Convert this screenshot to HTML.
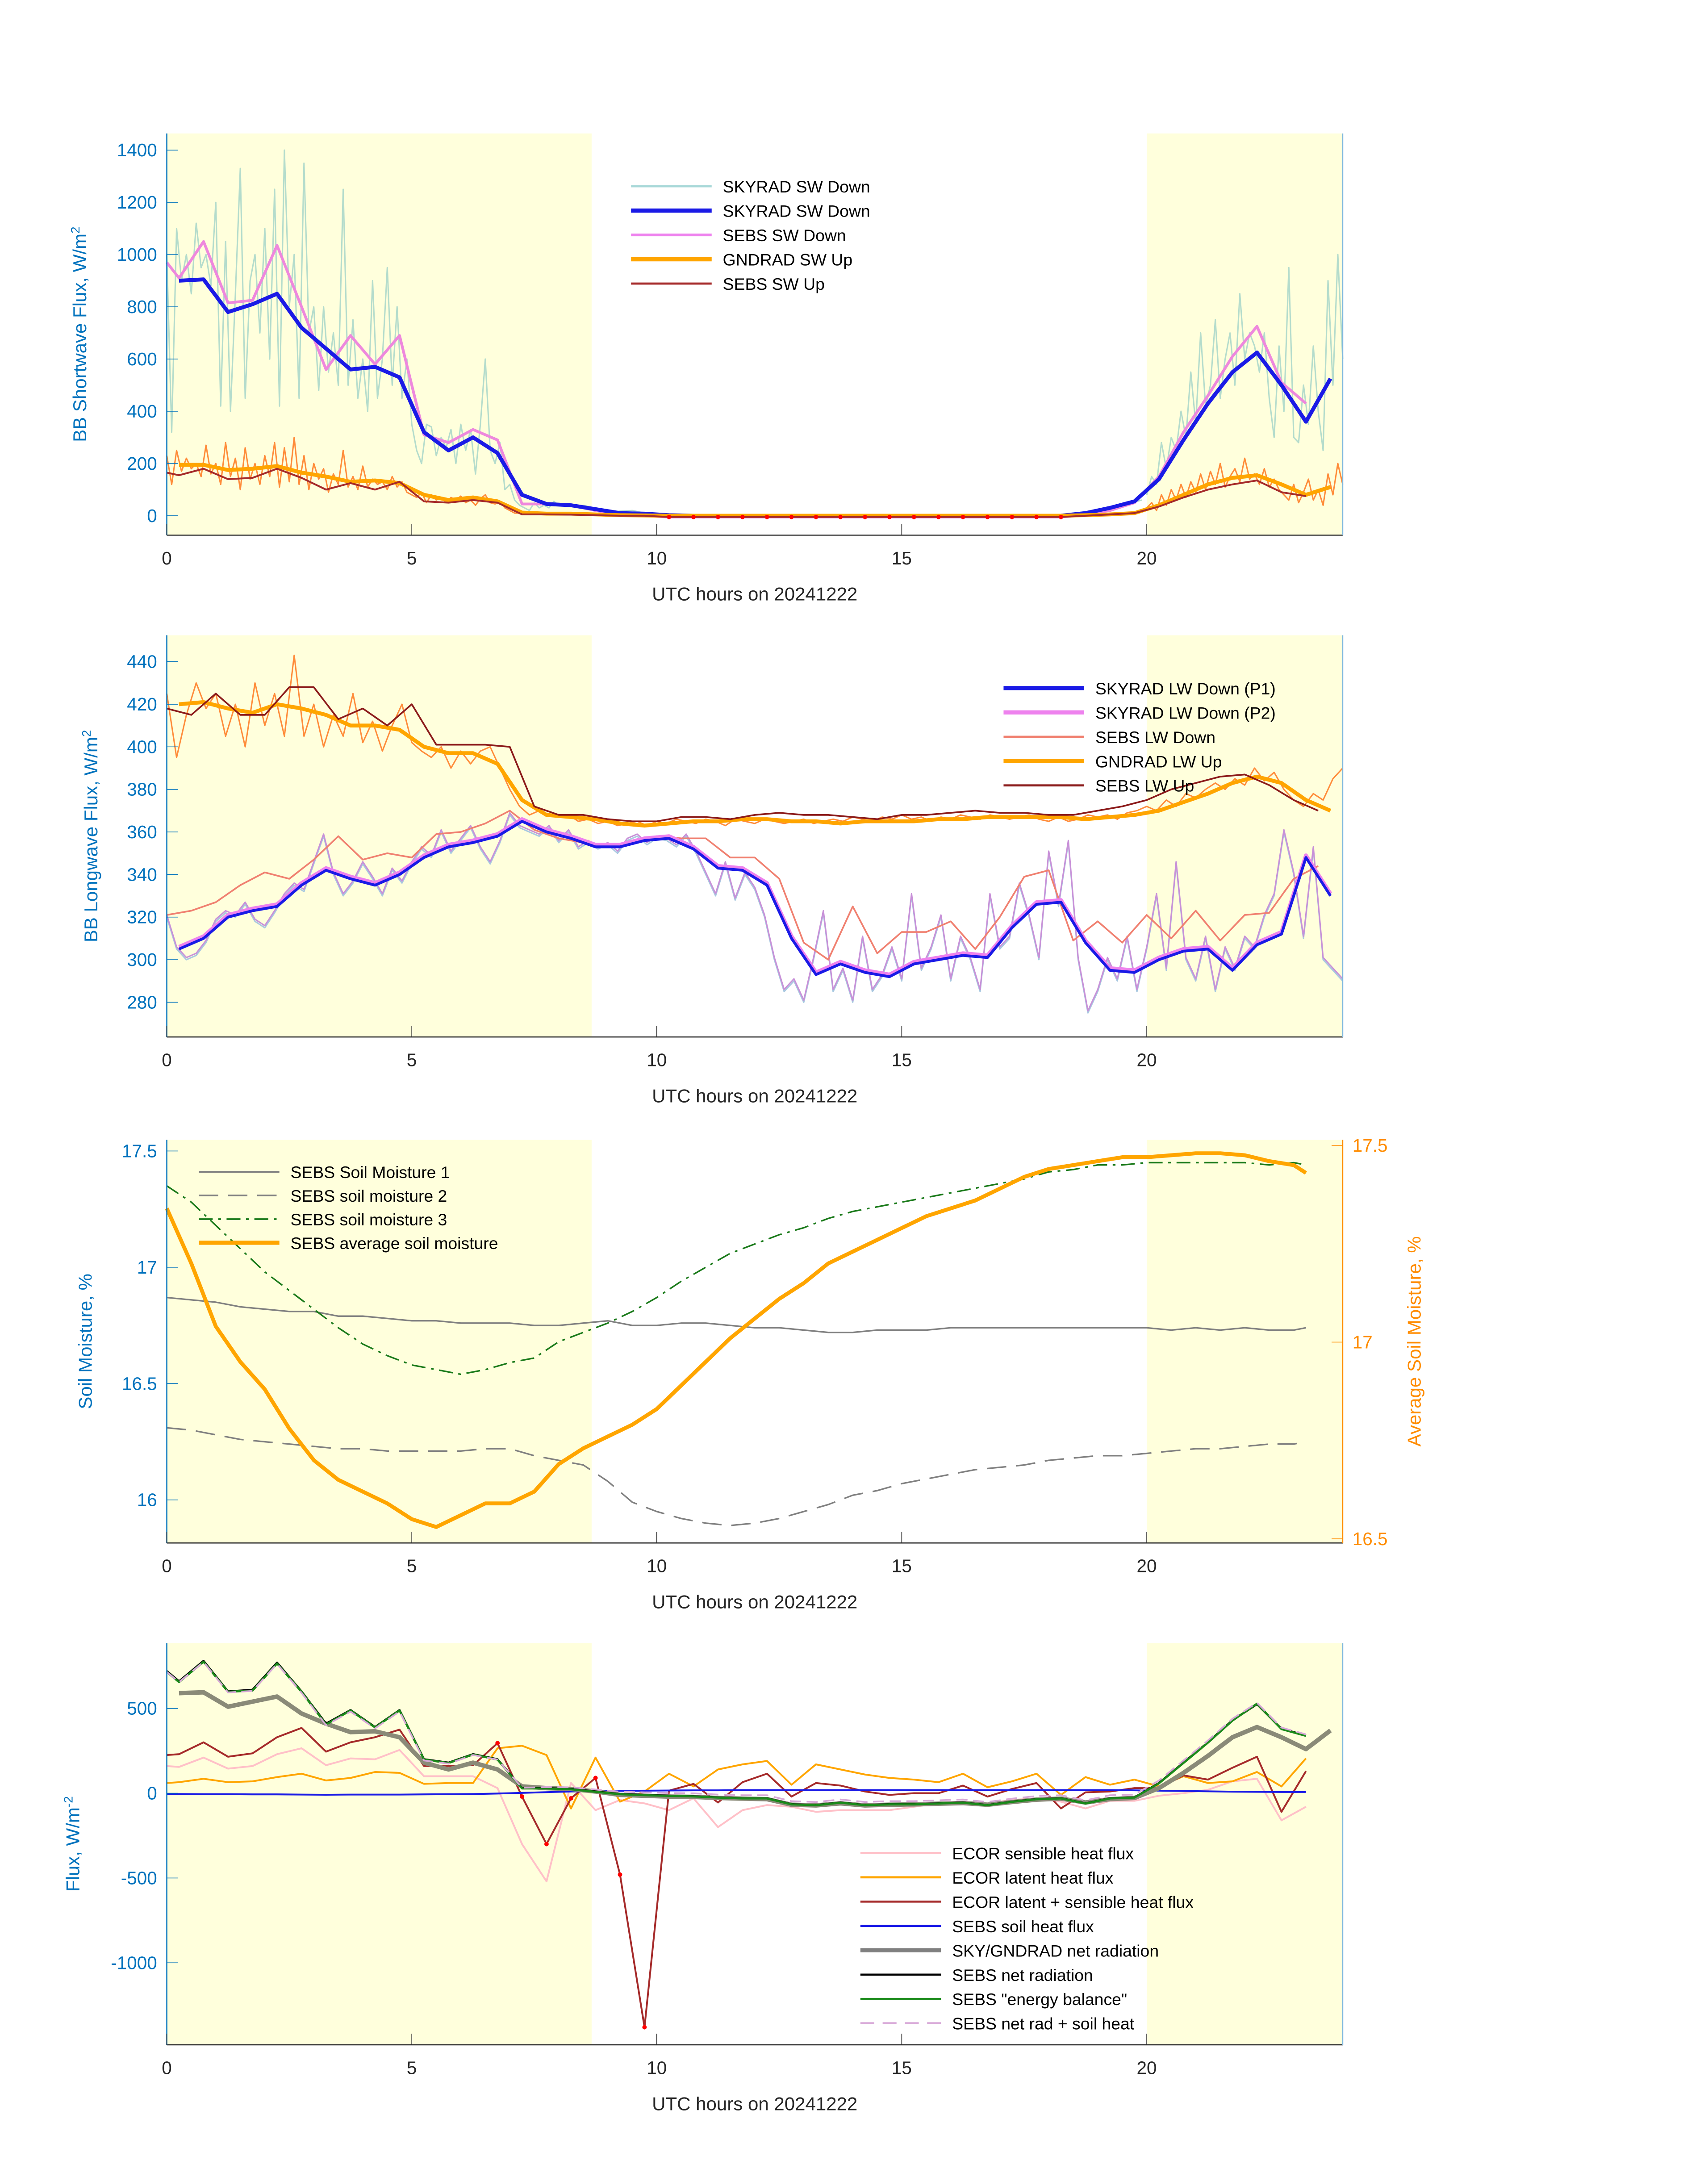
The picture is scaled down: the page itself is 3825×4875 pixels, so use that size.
<!DOCTYPE html>
<html><head><meta charset="utf-8"><style>
html,body{margin:0;padding:0;background:#fff}
svg{display:block;font-family:"Liberation Sans","DejaVu Sans",sans-serif}
</style></head><body>
<svg id="fig" width="3825" height="4875" viewBox="0 0 1228.8 1566.1" preserveAspectRatio="none" xmlns="http://www.w3.org/2000/svg"></svg>
<script>
// ---------- time grids ----------
function grid(a, step, n){ const r=[]; for(let i=0;i<n;i++) r.push(+(a+i*step).toFixed(3)); return r; }
const tQ = grid(0.25,0.5,48);
const tP = [0].concat(grid(0.25,0.5,47));
const tH = grid(0,0.5,48);
const t01a = grid(0,0.1,81);
const t01b = grid(20,0.1,41);
const t02 = grid(0,0.2,121);
// ---------- Panel 1 data ----------
const swRawA = [1000,320,1100,900,1000,850,1120,950,1000,880,1200,420,1050,400,850,1330,450,900,1000,700,1100,600,1250,420,1400,800,1000,450,1350,700,800,480,800,550,700,500,1250,500,750,450,600,400,900,450,600,950,500,800,450,600,350,250,200,350,340,230,300,260,330,200,350,250,330,160,350,600,250,200,280,100,120,60,40,30,20,50,30,40,30,55,40];
const swRawMidT = [8.5,9,9.5,10,12,14,16,18,19,19.5,19.9];
const swRawMid = [40,15,20,0,0,0,0,0,20,40,60];
const swRawB = [80,150,120,280,180,300,250,400,300,550,350,700,420,500,750,450,600,700,500,850,600,700,650,550,700,450,300,650,400,950,300,280,500,350,650,400,250,900,500,1000,600];
const upRawA = [230,120,250,170,220,180,200,150,270,160,200,120,280,150,220,100,260,140,200,120,230,150,280,110,260,130,300,120,230,100,200,140,180,90,160,120,250,110,150,100,190,110,140,120,130,100,150,110,130,90,80,70,90,50,80,60,70,50,70,60,75,50,60,40,65,80,50,45,55,30,20,10,10,5,5,5,8,5,5,5,5];
const upRawB = [30,50,20,80,40,100,60,120,70,130,90,160,100,170,120,200,110,150,180,130,220,140,160,120,180,110,140,100,80,60,120,50,90,140,60,100,40,160,80,200,120];
const skySW = [900,905,780,810,850,720,640,560,570,530,320,250,300,240,80,45,40,25,10,8,2,0,0,0,0,0,0,0,0,0,0,0,0,0,0,0,0,10,30,55,140,290,430,550,625,500,360,525];
const sebsSW = [970,910,1050,815,825,1035,800,560,690,580,690,310,280,330,290,45,45,40,20,5,0,-5,-5,-5,-5,-5,-5,-5,-5,-5,-5,-5,-5,-5,-5,-5,-5,-5,5,20,50,150,320,460,610,725,510,430];
const gndSW = [195,195,175,180,190,165,150,130,135,125,80,60,70,55,12,8,8,5,2,1,0,0,0,0,0,0,0,0,0,0,0,0,0,0,0,0,0,2,5,10,40,80,120,145,155,120,80,110];
const sebsUp = [165,155,180,140,145,180,145,100,125,100,130,55,50,60,50,5,5,4,2,0,0,-5,-5,-5,-5,-5,-5,-5,-5,-5,-5,-5,-5,-5,-5,-5,-5,-5,0,5,10,35,70,100,120,135,90,75];
// ---------- Panel 2 data ----------
const lwRaw = [320,305,300,302,308,318,322,320,326,318,315,322,330,335,332,345,358,340,330,336,345,338,330,342,336,345,352,348,360,350,356,362,352,345,355,368,362,360,358,362,355,360,352,355,352,354,350,356,358,354,357,356,353,358,350,340,330,345,328,340,333,320,300,285,290,280,300,322,285,295,280,310,285,292,305,290,330,295,305,320,290,310,300,285,330,305,310,335,320,300,350,325,355,300,275,285,300,290,310,285,305,330,295,345,300,290,310,285,305,295,310,305,320,330,360,340,310,352,300,295,290];
const upLwRaw = [425,395,415,430,418,425,405,420,400,430,410,425,405,443,405,420,400,415,405,425,402,412,398,410,420,402,398,395,400,390,398,392,398,400,390,380,372,368,370,368,367,368,365,366,364,365,363,364,365,363,365,364,366,365,364,366,365,363,366,365,364,366,365,364,365,366,364,365,366,365,367,366,365,367,366,368,366,367,365,367,366,368,367,366,368,367,366,367,368,366,365,367,365,366,368,367,368,366,369,370,372,370,375,372,378,376,380,383,380,385,382,390,384,388,380,375,372,378,375,385,390];
const skyLW1 = [305,310,320,323,325,335,342,338,335,340,348,353,355,358,365,360,357,353,353,356,357,352,343,342,335,310,293,298,294,292,298,300,302,301,315,326,327,308,295,294,300,304,305,295,307,312,348,330];
const skyLW2 = [306,311,321,324,326,336,343,339,336,341,349,354,356,359,366,361,358,354,354,357,358,353,344,343,336,311,294,299,295,293,299,301,303,302,316,327,328,309,296,295,301,305,306,296,308,313,349,331];
const sebsLWd = [321,323,327,335,341,338,347,358,347,350,348,359,360,364,370,361,357,355,353,355,358,357,357,348,348,338,308,300,325,303,313,313,318,305,320,339,342,309,318,308,321,310,323,309,321,322,338,344];
const gndLW = [420,421,418,416,420,418,415,410,410,408,400,397,397,392,375,368,367,366,364,363,364,365,365,366,366,365,365,364,365,365,365,366,366,367,367,367,367,366,367,368,370,374,378,383,386,383,375,370];
const sebsLWu = [418,415,425,415,415,428,428,413,418,410,420,401,401,401,400,372,368,368,366,365,365,367,367,366,368,369,368,368,367,366,368,368,369,370,369,369,368,368,370,372,375,380,383,386,387,382,375,370];
// ---------- Panel 3 data ----------
const sm1 = [16.87,16.86,16.85,16.83,16.82,16.81,16.81,16.79,16.79,16.78,16.77,16.77,16.76,16.76,16.76,16.75,16.75,16.76,16.77,16.75,16.75,16.76,16.76,16.75,16.74,16.74,16.73,16.72,16.72,16.73,16.73,16.73,16.74,16.74,16.74,16.74,16.74,16.74,16.74,16.74,16.74,16.73,16.74,16.73,16.74,16.73,16.73,16.74];
const sm2 = [16.31,16.30,16.28,16.26,16.25,16.24,16.23,16.22,16.22,16.21,16.21,16.21,16.21,16.22,16.22,16.19,16.17,16.15,16.08,15.99,15.95,15.92,15.90,15.89,15.90,15.92,15.95,15.98,16.02,16.04,16.07,16.09,16.11,16.13,16.14,16.15,16.17,16.18,16.19,16.19,16.20,16.21,16.22,16.22,16.23,16.24,16.24,16.25];
const sm3 = [17.35,17.28,17.18,17.08,16.98,16.90,16.82,16.74,16.67,16.62,16.58,16.56,16.54,16.56,16.59,16.61,16.68,16.72,16.76,16.81,16.87,16.94,17.00,17.06,17.10,17.14,17.17,17.21,17.24,17.26,17.28,17.30,17.32,17.34,17.36,17.38,17.41,17.42,17.44,17.44,17.45,17.45,17.45,17.45,17.45,17.44,17.45,17.44];
const smAvg = [17.34,17.2,17.04,16.95,16.88,16.78,16.7,16.65,16.62,16.59,16.55,16.53,16.56,16.59,16.59,16.62,16.69,16.73,16.76,16.79,16.83,16.89,16.95,17.01,17.06,17.11,17.15,17.2,17.23,17.26,17.29,17.32,17.34,17.36,17.39,17.42,17.44,17.45,17.46,17.47,17.47,17.475,17.48,17.48,17.475,17.46,17.45,17.43];
// ---------- Panel 4 data ----------
const ecorH = [160,155,210,145,160,230,265,165,205,200,255,100,100,100,30,-300,-520,60,-100,-40,-60,-100,-30,-200,-100,-70,-80,-110,-100,-100,-100,-80,-60,-50,-60,-40,-30,-50,-90,-45,-45,-15,0,20,70,85,-160,-80];
const ecorLE = [60,65,85,65,70,95,115,75,90,125,120,55,60,60,265,280,225,-90,210,-50,10,115,40,140,170,190,50,170,140,110,90,80,65,115,35,70,115,-10,95,50,80,40,100,60,70,125,40,205];
const ecorSum = [225,230,300,215,235,330,385,245,300,330,375,160,160,165,295,-20,-300,-30,90,-480,-1380,15,55,-55,65,115,-20,60,45,10,-10,0,0,45,-20,25,60,-90,5,10,30,30,105,80,150,215,-110,130];
const soilG = [-5,-5,-6,-6,-7,-7,-8,-9,-8,-8,-8,-7,-6,-5,-2,2,6,10,12,14,15,16,17,17,18,18,18,18,18,18,18,18,18,18,18,18,18,18,18,18,17,15,13,11,9,8,7,7];
const skyNet = [590,595,510,540,570,470,410,360,365,330,180,140,180,140,40,30,25,10,-10,-15,-20,-22,-28,-32,-35,-68,-72,-60,-72,-68,-66,-62,-58,-68,-52,-38,-32,-55,-35,-28,30,120,220,330,390,330,260,370];
const sebsNet = [720,660,780,600,610,770,600,410,490,390,490,200,180,230,200,30,30,25,10,-5,-10,-15,-18,-25,-30,-30,-65,-70,-55,-70,-65,-65,-60,-55,-70,-50,-35,-30,-60,-30,-25,60,180,300,430,525,380,340];
const sebsEB = [715,655,775,598,605,765,598,405,488,388,488,198,178,228,198,28,28,23,8,-6,-12,-16,-19,-26,-31,-31,-66,-71,-56,-71,-66,-66,-61,-56,-71,-51,-36,-31,-61,-31,-26,58,178,298,428,528,378,338];
const sebsNG = [715,655,774,594,603,763,592,401,481,382,482,193,174,225,198,32,36,35,22,9,5,1,-1,-8,-12,-12,-47,-52,-37,-52,-47,-47,-42,-37,-52,-32,-17,-12,-42,-12,-8,75,193,311,439,533,387,347];

// ---------- drawing helpers ----------
const svg = document.getElementById('fig');
const NS = 'http://www.w3.org/2000/svg';
function mk(tag, attrs, parent){ const e=document.createElementNS(NS,tag); for(const k in attrs) e.setAttribute(k,attrs[k]); (parent||svg).appendChild(e); return e; }
function txt(s, attrs, parent){ const e=mk('text',attrs,parent); e.textContent=s; return e; }
const X0=120, X1=966;
function xs(t){ return X0 + (t/24)*(X1-X0); }
function makeY(v0,y0,v1,y1){ return v => y0 + (v-v0)*(y1-y0)/(v1-v0); }
function line(g, T, V, y, stroke, w, dash, name){
  const d = T.map((t,i)=>(i?'L':'M')+xs(t).toFixed(2)+','+y(V[i]).toFixed(2)).join('');
  const p = mk('path',{d:d,fill:'none',stroke:stroke,'stroke-width':w,'stroke-linejoin':'round'},g);
  if(dash) p.setAttribute('stroke-dasharray',dash);
  
  
  return p;
}
function panel(name, top, bot){
  const g = mk('g',{});
  
  
  const s1 = mk('rect',{x:xs(0),y:top,width:xs(8.67)-xs(0),height:bot-top,fill:'#ffffdc'},g);
  
  
  const s2 = mk('rect',{x:xs(20),y:top,width:xs(24)-xs(20),height:bot-top,fill:'#ffffdc'},g);
  
  
  return g;
}
function axes(g, top, bot, yticks, yfun, ylabel, ylabelX, rightColor){
  const ax = mk('g',{},g);
  
  
  mk('line',{x1:X0,y1:bot,x2:X1,y2:bot,stroke:'#262626','stroke-width':0.8},ax);
  mk('line',{x1:X0,y1:top,x2:X0,y2:bot,stroke:'#0072BD','stroke-width':0.8},ax);
  mk('line',{x1:X1,y1:top,x2:X1,y2:bot,stroke:rightColor||'#7fb8de','stroke-width':0.8},ax);
  [0,5,10,15,20].forEach(t=>{
    mk('line',{x1:xs(t),y1:bot,x2:xs(t),y2:bot-8,stroke:'#262626','stroke-width':0.5},ax);
    const l = txt(String(t),{x:xs(t),y:bot+21,'font-size':13,fill:'#262626','text-anchor':'middle'},ax);
    
    
  });
  yticks.forEach(v=>{
    const y=yfun(v);
    mk('line',{x1:X0,y1:y,x2:X0+8,y2:y,stroke:'#0072BD','stroke-width':0.5},ax);
    const l = txt(String(v),{x:X0-7,y:y+4.5,'font-size':13,fill:'#0072BD','text-anchor':'end'},ax);
    
    
  });
  const xl = txt('UTC hours on 20241222',{x:543,y:bot+47,'font-size':13.5,fill:'#262626','text-anchor':'middle'},ax);
  
  
  const cy=(top+bot)/2;
  const yl = mk('text',{x:ylabelX,y:cy,'font-size':13.5,fill:'#0072BD','text-anchor':'middle',transform:'rotate(-90 '+ylabelX+' '+cy+')'},ax);
  yl.innerHTML = ylabel;
  
  
}
function legend(g, x, y0, dy, items){
  const lg = mk('g',{},g);
  
  
  items.forEach((it,i)=>{
    const y=y0+i*dy;
    const e = mk('g',{},lg);
    
    
    const l = mk('line',{x1:x,y1:y,x2:x+58,y2:y,stroke:it[1],'stroke-width':it[2]},e);
    if(it[3]) l.setAttribute('stroke-dasharray',it[3]);
    txt(it[0],{x:x+66,y:y+4.5,'font-size':12,fill:'#000'},e);
  });
}
function dots(g, T, V, y, from, to, name){
  T.forEach((t,i)=>{ if(t>=from && t<=to){
    const c = mk('circle',{cx:xs(t),cy:y(V[i]),r:1.6,fill:'#ff0000'},g);
    
    
  }});
}

// ---------- Panel 1 ----------
(function(){
  const top=96,bot=385; const y=makeY(0,371,1400,108);
  const g=panel('shortwave-panel',top,bot);
  line(g,t01a,swRawA,y,'#b4dccc',1,null,'skyrad-sw-raw');
  line(g,swRawMidT,swRawMid,y,'#b4dccc',1,null,'skyrad-sw-raw');
  line(g,t01b,swRawB,y,'#b4dccc',1,null,'skyrad-sw-raw');
  line(g,t01a,upRawA,y,'#ff8c3a',1,null,'gndrad-sw-up-raw');
  line(g,t01b,upRawB,y,'#ff8c3a',1,null,'gndrad-sw-up-raw');
  line(g,tP,sebsSW,y,'#ee88dd',2,null,'sebs-sw-down');
  line(g,tQ,skySW,y,'#1a1ae6',2.8,null,'skyrad-sw-down');
  line(g,tQ,gndSW,y,'#ffa500',2.8,null,'gndrad-sw-up');
  line(g,tP,sebsUp,y,'#a52a2a',1.3,null,'sebs-sw-up');
  dots(g,tP,sebsUp,y,10,18.3,'missing-marker');
  axes(g,top,bot,[0,200,400,600,800,1000,1200,1400],y,'BB Shortwave Flux, W/m<tspan baseline-shift="super" font-size="9">2</tspan>',62);
  legend(g,454,134,17.5,[['SKYRAD SW Down','#a8d8d8',1.5],['SKYRAD SW Down','#1a1ae6',3],['SEBS SW Down','#ee82ee',2],['GNDRAD SW Up','#ffa500',3],['SEBS SW Up','#a52a2a',1.5]]);
})();
// ---------- Panel 2 ----------
(function(){
  const top=457,bot=746; const y=makeY(280,721,440,476);
  const g=panel('longwave-panel',top,bot);
  line(g,t02,lwRaw,y,'#a8c8e0',1,null,'skyrad-lw-raw');
  line(g,t02,lwRaw.map(v=>v+1),y,'#c890d8',1,null,'sebs-lw-raw');
  line(g,t02,upLwRaw,y,'#ff8c3a',1,null,'gndrad-lw-up-raw');
  line(g,tH,sebsLWd,y,'#f08070',1.2,null,'sebs-lw-down');
  line(g,tQ,skyLW2,y,'#ee82ee',2.8,null,'skyrad-lw-down-p2');
  line(g,tQ,skyLW1,y,'#1a1ae6',2,null,'skyrad-lw-down-p1');
  line(g,tQ,gndLW,y,'#ffa500',2.8,null,'gndrad-lw-up');
  line(g,tH,sebsLWu,y,'#8b1a1a',1.2,null,'sebs-lw-up');
  axes(g,top,bot,[280,300,320,340,360,380,400,420,440],y,'BB Longwave Flux, W/m<tspan baseline-shift="super" font-size="9">2</tspan>',70);
  legend(g,722,495,17.5,[['SKYRAD LW Down (P1)','#1a1ae6',3],['SKYRAD LW Down (P2)','#ee82ee',3],['SEBS LW Down','#f08070',1.5],['GNDRAD LW Up','#ffa500',3],['SEBS LW Up','#8b1a1a',1.5]]);
})();
// ---------- Panel 3 ----------
(function(){
  const top=820,bot=1110; const y=makeY(16,1079,17.5,828); const yr=makeY(16.5,1107,17.5,824);
  const g=panel('soil-moisture-panel',top,bot);
  const T = tH.slice(0,47).concat([23.25]);
  line(g,T,sm1,y,'#808080',1.1,null,'soil-moisture-1');
  line(g,T,sm2,y,'#808080',1.1,'14 7','soil-moisture-2');
  line(g,T,sm3,y,'#1a7a1a',1.1,'10 4 2 4','soil-moisture-3');
  line(g,T,smAvg,yr,'#ffa500',2.8,null,'average-soil-moisture');
  axes(g,top,bot,[16,16.5,17,17.5],y,'Soil Moisture, %',66,'#ff8c00');
  const ra = mk('g',{},g);
  
  
  [16.5,17,17.5].forEach(v=>{
    mk('line',{x1:X1-8,y1:yr(v),x2:X1,y2:yr(v),stroke:'#ff8c00','stroke-width':0.5},ra);
    const l = txt(String(v),{x:X1+7,y:yr(v)+4.5,'font-size':13,fill:'#ff8c00'},ra);
    
    
  });
  const rl = txt('Average Soil Moisture, %',{x:1022,y:965,'font-size':13.5,fill:'#ff8c00','text-anchor':'middle',transform:'rotate(-90 1022 965)'},ra);
  
  
  legend(g,143,843,17,[['SEBS Soil Moisture 1','#808080',1.2],['SEBS soil moisture 2','#808080',1.2,'14 7'],['SEBS soil moisture 3','#1a7a1a',1.2,'10 4 2 4'],['SEBS average soil moisture','#ffa500',3]]);
})();
// ---------- Panel 4 ----------
(function(){
  const top=1182,bot=1471; const y=makeY(0,1290,500,1229);
  const g=panel('energy-flux-panel',top,bot);
  line(g,tP,ecorH,y,'#ffc0c8',1.3,null,'ecor-sensible');
  line(g,tP,ecorLE,y,'#ffa500',1.3,null,'ecor-latent');
  line(g,tP,ecorSum,y,'#a52a2a',1.3,null,'ecor-latent-plus-sensible');
  dots(g,tP,ecorSum,y,6.7,9.8,'ecor-marker');
  line(g,tP,soilG,y,'#1a1ae6',1.3,null,'sebs-soil-heat');
  line(g,tQ,skyNet,y,'#8a8a78',3.2,null,'sky-gndrad-net');
  line(g,tP,sebsNet,y,'#000',1.5,null,'sebs-net-radiation');
  line(g,tP,sebsEB,y,'#1a8a1a',1.5,null,'sebs-energy-balance');
  line(g,tP,sebsNG,y,'#d8a8d8',1.2,'8 4','sebs-net-plus-soil');
  axes(g,top,bot,[-1000,-500,0,500],y,'Flux, W/m<tspan baseline-shift="super" font-size="9">-2</tspan>',57);
  legend(g,619,1333,17.5,[['ECOR sensible heat flux','#ffc0c8',1.5],['ECOR latent heat flux','#ffa500',1.5],['ECOR latent + sensible heat flux','#a52a2a',1.5],['SEBS soil heat flux','#1a1ae6',1.5],['SKY/GNDRAD net radiation','#808080',3],['SEBS net radiation','#000',1.5],['SEBS "energy balance"','#1a8a1a',1.5],['SEBS net rad + soil heat','#d8a8d8',1.5,'10 6']]);
})();
</script>
</body></html>
